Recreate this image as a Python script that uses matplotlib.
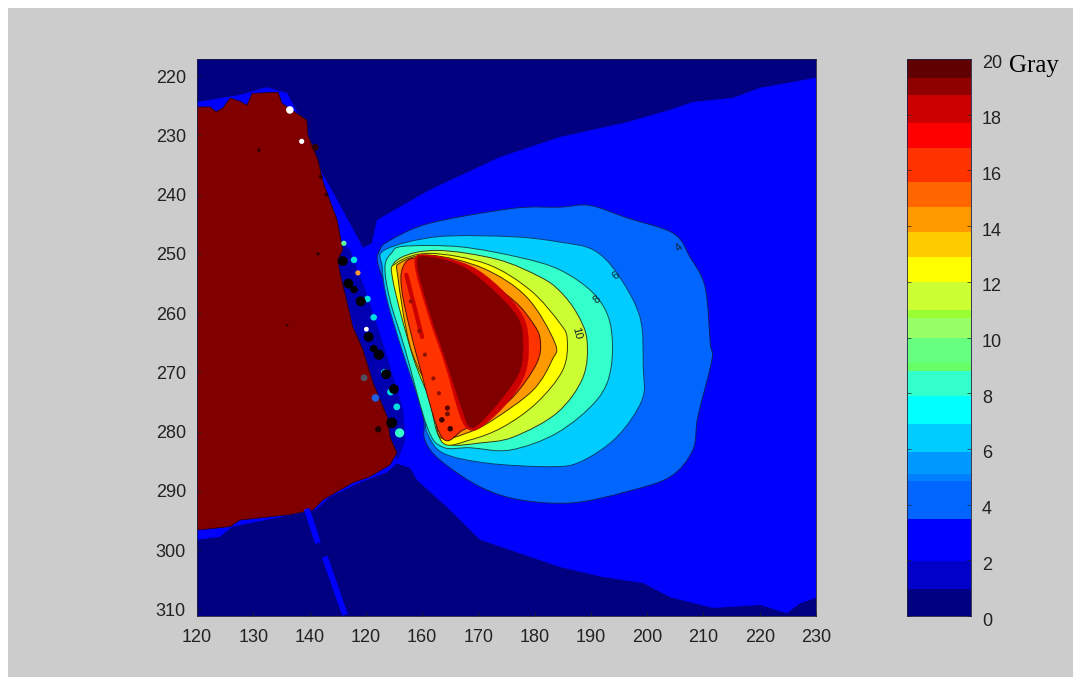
import matplotlib
matplotlib.use("Agg")
import matplotlib.pyplot as plt
from matplotlib.patches import Rectangle, PathPatch
from matplotlib.path import Path
from matplotlib.transforms import ScaledTranslation
import numpy as np

W, H = 1081, 685
plt.rcParams['font.family'] = ['Liberation Sans', 'DejaVu Sans']

x_ticks = [120,130,140,150,160,170,180,190,200,210,220,230]
x_labels = ['120','130','140','120','160','170','180','190','200','210','220','230']
y_ticks = [220,230,240,250,260,270,280,290,300,310]
cbar_ticks = [0,2,4,6,8,10,12,14,16,18,20]

cbar_edges = [0,0.97,1.97,3.5,4.85,5.1,5.9,6.9,7.9,8.8,9.1,10.0,10.7,11.0,12.0,12.9,13.8,14.7,15.6,16.8,17.7,18.7,19.3,20]
cbar_colors = ['#000080','#0000c8','#0000ff','#0066ff','#0080ff','#0099ff','#00ccff','#00ffff','#33ffcc','#66ff66',
               '#66ff80','#99ff66','#99ff33','#ccff33','#ffff00','#ffcc00','#ff9900','#ff6600','#ff3300','#ff0000',
               '#cc0000','#8f0000','#600000']

plume = [(230,220.3),(220.1,222),(215.2,223.7),(208.1,224.4),(204.1,225.7),(196.4,227.8),(184.5,230.3),(173.8,233.7),
         (161.4,239.2),(152,244.3),(151.1,248.2),(149.5,249),(144.2,239.7),(141.9,235.9),(139.5,229.1),(136,222.9),
         (132.4,221.9),(127.6,223.2),(120,224.4),(120,298.2),(124.1,297.7),(126.2,296),(141,293.2),(143.6,291),
         (149,288.5),(153.8,286.8),(155.5,285.3),(157.9,286.1),(159.1,288.1),(165,293.2),(170.3,298.2),(184.5,302.8),
         (192.2,304.5),(199.3,305.5),(204.1,307.9),(211.7,309.7),(220.1,309.2),(224.8,310.6),(227.2,308.9),(230,308)]
level_4 = [(154.3,247.7),(161.4,244.8),(176.2,242.3),(184.5,242.1),(189.8,241.8),(196.4,243.9),(204.6,246.5),(207.6,250.5),
           (210.3,255.6),(211.2,265),(211.5,267.9),(209,277.5),(208.1,283.1),(204.1,287.6),(196.4,290.1),(186.8,292),
           (177.4,291.5),(170.3,289.3),(163.2,284.8),(160.5,281.4),(160.2,277.5),(157.9,267.9),(155.2,259.5),(152.2,251.9),(152.5,249.3)]
level_6 = [(153.4,249.3),(162.7,247.1),(176.2,247.1),(184.5,248),(190.4,249.3),(194.6,253.2),(198.7,260.6),(199.3,269.1),
           (199.1,274.6),(194.6,280.9),(188.1,285.1),(182.7,285.9),(171.5,285.3),(163.7,283.6),(160.9,280.2),(160.2,276.8),
           (156.6,266.7),(153.8,257.8),(152.9,252.2)]
level_8 = [(154.6,249.8),(156.8,248.7),(166.8,248.8),(177.4,250.6),(184.5,252.7),(190.4,256.6),(193.4,261.6),(193.6,269.1),(191.1,274.6),(184,280.2),
           (175.6,283.1),(168.5,282.7),(163.7,282.6),(160.9,279.2),(157,266.2),(154.3,257.8),(153.4,252.2)]
level_11 = [(156.1,250.7),(162.7,249.4),(173.3,250.9),(181,253.9),(184.5,256.3),(187.5,260),(189.3,264.5),(188.6,270.8),(184,276.8),
            (176.2,280.9),(170.3,281.9),(165,282.2),(162.7,280.2),(160.9,272.4),(157.9,263.3),(154.8,253.9)]
level_12 = [(155.5,251.5),(161.4,249.9),(171.5,251.7),(179.2,256.1),(184.5,261.7),(185.8,264.5),(185,269.6),(180.4,275.1),
            (174.4,279.2),(168.5,281.4),(163.7,281.9),(161.9,275.8),(158.4,267.4),(154.8,254.4)]
level_14 = [(156.1,251.5),(161.4,250.2),(170.8,252.4),(178.6,257.3),(183.6,265),(183.1,267.9),(179.7,273),(172.6,278),
            (168,280.2),(163.2,280.9),(161.9,274.6),(157.9,265.7),(155.7,253.9)]
level_16 = [(156.6,252.2),(159.6,250.7),(168.5,252.7),(176.2,257.8),(179.7,261.7),(181,264.5),(180.4,268.4),(176.2,274.1),
            (171.5,277.5),(167.3,279.7),(163.5,280.9),(159.6,269.1),(156.6,257.3)]
level_18 = [(158.7,251.4),(161.4,250.2),(168.5,252),(173.8,255.7),(177.8,260.3),(178.9,264.5),(178.4,269.9),(175.6,274.6),
            (171.1,278.8),(168.5,279.7),(166.7,277.2),(164.1,268.7),(161.1,260.3)]
level_19 = [(159.1,251.5),(161.4,250.5),(167.3,252.2),(172.6,256.1),(176.9,260.6),(177.9,264.5),(177.4,269.6),(174.4,274.1),
            (170.3,278.5),(168.5,279.2),(167.3,276.8),(164.4,268.4),(161.4,260)]
streak = [(157.2,253.5),(158.4,258),(160,264)]
solid_region = [(120,225.2),(122.3,225.2),(123.4,226),(124.6,225.4),(125.9,223.7),(127.5,224.2),(128.9,224.9),(129.8,222.9),(134.4,222.7),(135.1,224.6),
                (139.5,227.4),(139.7,229.9),(141.5,234.2),(142.4,237.9),(144.9,244.3),(145.9,249.3),(145,251),(145.4,253.2),
                (147.7,262.3),(149.5,266.2),(151.3,271.8),(153.8,277.5),(154.3,280.9),(155.5,283.6),(154.3,285.6),(150.7,287.6),
                (147.7,288.6),(142.4,291.5),(140.6,293.2),(136.5,294),(127.6,294.9),(125.9,296),(120,296.6)]
edge_strip = [(145.4,247.7),(147.2,249.3),(149.9,256.1),(153.4,266.2),(156.6,276.3),(157,281.4),(155.7,284.8),(154.7,283.1),
              (153.4,278),(150.7,272.1),(148.1,262.8),(145.4,253.6)]
crack_a = [(139.5,293),(141.5,298.8)]
crack_b = [(142.7,301.1),(146.3,310.9)]

spot_x = [146.1,147.9,148.6,150.3,151.4,150.1,153.3,154.4,155.5,156.0,
          145.9,146.9,147.9,149.1,150.5,151.4,152.3,153.6,155.0,154.6,
          136.5,138.6,141.0,149.7,151.7,152.2,131,142,143,141.5,136,
          158,159.5,160.5,162,163,164.5,163.5,165,164.5]
spot_y = [248.2,251,253.2,257.6,260.7,262.7,270,273.3,275.8,280.2,
          251.2,255,256,258,264,266,267,270.3,272.8,278.5,
          225.7,231,232,270.9,274.3,279.6,232.5,237,240,250,262,
          258,263,267,271,273.5,277,278,279.5,276]
spot_c = ['#66ff99','#00e0e0','#ff9933','#00e0e0','#00e0e0','#ffffff','#00e0e0','#00e0e0','#00e0e0','#33ffcc',
          '#000000','#000000','#000000','#000000','#000000','#000000','#000000','#000000','#000000','#000000',
          '#ffffff','#ffffff','#300000','#505060','#2060e0','#200000','#400000','#300000','#300000','#300000','#400000',
          '#901000','#901000','#901000','#901000','#901000','#701000','#400000','#400000','#600000']
spot_s = [14,22,14,22,22,12,24,24,24,44,
          50,50,30,52,50,30,55,50,50,60,
          30,14,24,24,30,20,8,8,8,6,4,
          9,9,9,9,9,12,16,16,14]

contour_text = ['4','6','8','10']
contour_text_x = [205.7,194.5,191.0,187.5]
contour_text_y = [248.9,253.6,257.8,263.3]
contour_text_rot = [40,40,40,-75]

fig = plt.figure(figsize=(W/100, H/100), dpi=100, facecolor='white')
fig.add_artist(Rectangle((8/W, 1-677/H), (1073-8)/W, (677-8)/H, transform=fig.transFigure, fc='#cccccc', ec='none', zorder=-5))

ax = fig.add_axes([197/W, 1-616/H, (816-197)/W, (616-59)/H])
ax.set_facecolor(cbar_colors[0])
ax.set_xlim(120, 230)
ax.set_ylim(311.1, 217.1)

def region(pts, color, edge=None, lw=0.8):
    xs, ys = zip(*pts)
    ax.fill(xs, ys, fc=color, ec=edge if edge else color, lw=lw if edge else 0.3, joinstyle='round')

def smooth_region(pts, color, edge=None, lw=0.7):
    # closed outline drawn as a Bezier path passing through the read points
    p = np.array(pts, float)
    n = len(p)
    verts = [p[0]]
    codes = [Path.MOVETO]
    for i in range(n):
        p0, p1, p2, p3 = p[(i-1) % n], p[i], p[(i+1) % n], p[(i+2) % n]
        verts += [p1 + (p2-p0)/6, p2 - (p3-p1)/6, p2]
        codes += [Path.CURVE4]*3
    ax.add_patch(PathPatch(Path(verts, codes), fc=color, ec=edge if edge else color, lw=lw if edge else 0.3))

region(plume, '#0000ff')
for c in (crack_a, crack_b):
    xs, ys = zip(*c)
    ax.plot(xs, ys, color='#0000ff', lw=4.2, solid_capstyle='butt')
smooth_region(level_4, '#0066ff', '#10206a')
smooth_region(level_6, '#00ccff', '#0a4070')
smooth_region(level_8, '#33ffcc', '#105050')
smooth_region(level_11, '#ccff33', '#304020')
smooth_region(level_12, '#ffff00', '#404000')
smooth_region(level_14, '#ff9900', '#403000')
smooth_region(level_16, '#ff3300', '#501000')
smooth_region(level_18, '#cc0000')
smooth_region(level_19, '#800000')
xs, ys = zip(*streak)
ax.plot(xs, ys, color='#cc0000', lw=3, solid_capstyle='round')
region(edge_strip, '#0000b0')
region(solid_region, '#800000', '#300010', 0.6)
ax.scatter(spot_x, spot_y, s=spot_s, c=spot_c, linewidths=0, zorder=5)

for t, x, y, r in zip(contour_text, contour_text_x, contour_text_y, contour_text_rot):
    ax.text(x, y, t, fontsize=8, rotation=r, ha='center', va='center', color='#102030', zorder=6)

ax.set_xticks(x_ticks, x_labels)
ax.set_yticks(y_ticks)
ax.tick_params(axis='x', direction='in', length=3, width=0.5, labelsize=13, colors='#222222', pad=9)
ax.tick_params(axis='y', direction='in', length=3, width=0.5, labelsize=13, colors='#222222', pad=8)
for s in ax.spines.values():
    s.set_linewidth(0.6)
    s.set_color('#202040')

cax = fig.add_axes([907/W, 1-616/H, (971-907)/W, (616-59)/H])
cax.pcolormesh([0, 1], cbar_edges, np.arange(len(cbar_colors)).reshape(-1, 1),
               cmap=matplotlib.colors.ListedColormap(cbar_colors), shading='flat')
cax.set_xlim(0, 1)
cax.set_ylim(0, 20)
cax.set_xticks([])
cax.yaxis.tick_right()
cax.set_yticks(cbar_ticks)
cax.tick_params(axis='y', direction='in', length=3, width=0.5, labelsize=13, colors='#222222', pad=8, left=True, right=True)
shift = ScaledTranslation(0, -3/100, fig.dpi_scale_trans)
for lab in cax.get_yticklabels():
    lab.set_transform(lab.get_transform() + shift)
for s in cax.spines.values():
    s.set_linewidth(0.6)
    s.set_color('#202040')

fig.text(1009/W, 1-72/H, 'Gray', family=['Liberation Serif', 'DejaVu Serif'], fontsize=18, color='black', ha='left', va='baseline')

fig.savefig('out.png', dpi=100, facecolor=fig.get_facecolor())
